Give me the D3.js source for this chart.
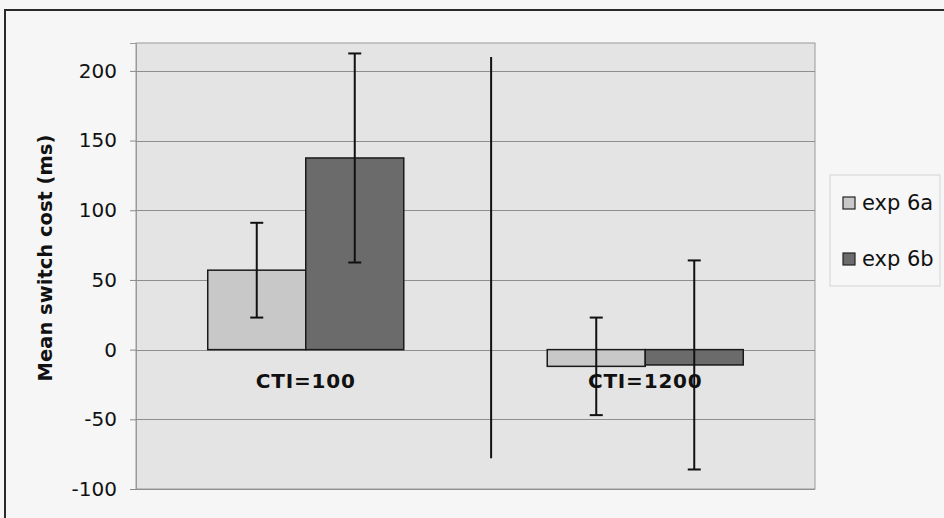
<!DOCTYPE html>
<html>
<head>
<meta charset="utf-8">
<script src="https://cdn.jsdelivr.net/npm/d3@7"></script>
<style>
  html, body { margin: 0; padding: 0; background: #f6f6f6; }
  svg { display: block; }
  text { font-family: "DejaVu Sans", Verdana, sans-serif; fill: #111; }
</style>
</head>
<body>
<svg id="chart" width="944" height="518"></svg>
<script>
// ---- data ----
const categories = ["CTI=100", "CTI=1200"];
const series = ["exp 6a", "exp 6b"];
const exp6a = [57, -12];
const exp6b = [137.5, -11];
const err6a = [34, 35];
const err6b = [75, 75];
const yTicks = [-100, -50, 0, 50, 100, 150, 200];
const yDomain = [-100, 220];
const yTitle = "Mean switch cost (ms)";
// vertical separator: position in category units, value extent
const dividerPos = [1.046];
const dividerRange = [210, -78];

// ---- layout ----
const W = 944, H = 518;
const plot = { left: 136, right: 815, top: 43, bottom: 489 };
const colors = { "exp 6a": "#c8c8c8", "exp 6b": "#6b6b6b" };

const svg = d3.select("#chart");

// background
svg.append("rect").attr("x", 0).attr("y", 0).attr("width", W).attr("height", H).attr("fill", "#f6f6f6");
// outer frame (left + top visible)
svg.append("path").attr("d", `M5,${H} L5,10 L${W},10`).attr("fill", "none").attr("stroke", "#2a2a2a").attr("stroke-width", 2);

const y = d3.scaleLinear().domain(yDomain).range([plot.bottom, plot.top]);
const x0 = d3.scaleBand().domain(categories).range([plot.left, plot.right]).paddingInner(0).paddingOuter(0);
const x1 = d3.scaleBand().domain(series).range([0, x0.bandwidth()]).paddingInner(0).paddingOuter(0.732);
const xc = d3.scaleLinear().domain([0, categories.length]).range([plot.left, plot.right]);

// plot area
svg.append("rect")
  .attr("x", plot.left).attr("y", plot.top)
  .attr("width", plot.right - plot.left).attr("height", plot.bottom - plot.top)
  .attr("fill", "#e4e4e4").attr("stroke", "#9a9a9a").attr("stroke-width", 1);

// gridlines + y axis
const yAxis = d3.axisLeft(y).tickValues(yTicks).tickSize(6).tickPadding(13).tickFormat(d => String(d));
const gAxis = svg.append("g").attr("transform", `translate(${plot.left},0)`).call(yAxis);
gAxis.select(".domain").attr("stroke", "#9a9a9a");
gAxis.selectAll(".tick line").attr("stroke", "#8a8a8a");
gAxis.selectAll(".tick text").attr("font-size", 20).attr("fill", "#222").style("font-family", "DejaVu Sans, sans-serif");

svg.append("g").selectAll("line").data(yTicks).join("line")
  .attr("x1", plot.left).attr("x2", plot.right)
  .attr("y1", d => Math.round(y(d)) + 0.5).attr("y2", d => Math.round(y(d)) + 0.5)
  .attr("stroke", "#8f8f8f").attr("stroke-width", 1);

// y title
svg.append("text")
  .attr("transform", `translate(52,258) rotate(-90)`)
  .attr("text-anchor", "middle")
  .attr("font-weight", "bold").attr("font-size", 19.5)
  .text(yTitle);

// bars
const rows = [];
categories.forEach((c, i) => {
  rows.push({ cat: c, s: "exp 6a", v: exp6a[i], e: err6a[i] });
  rows.push({ cat: c, s: "exp 6b", v: exp6b[i], e: err6b[i] });
});

svg.append("g").selectAll("rect").data(rows).join("rect")
  .attr("x", d => x0(d.cat) + x1(d.s))
  .attr("y", d => y(Math.max(0, d.v)))
  .attr("width", x1.bandwidth())
  .attr("height", d => Math.abs(y(d.v) - y(0)))
  .attr("fill", d => colors[d.s])
  .attr("stroke", "#1a1a1a").attr("stroke-width", 1.5);

// category labels
svg.append("g").selectAll("text").data(categories).join("text")
  .attr("x", d => x0(d) + x0.bandwidth() / 2)
  .attr("y", y(0) + 38)
  .attr("text-anchor", "middle")
  .attr("font-weight", "bold").attr("font-size", 20)
  .attr("letter-spacing", 0.8)
  .text(d => d);

// error bars
const eg = svg.append("g").attr("stroke", "#111").attr("stroke-width", 2);
rows.forEach(d => {
  const cx = x0(d.cat) + x1(d.s) + x1.bandwidth() / 2;
  const top = y(d.v + d.e), bot = y(d.v - d.e);
  eg.append("line").attr("x1", cx).attr("x2", cx).attr("y1", top).attr("y2", bot);
  eg.append("line").attr("x1", cx - 6.5).attr("x2", cx + 6.5).attr("y1", top).attr("y2", top);
  eg.append("line").attr("x1", cx - 6.5).attr("x2", cx + 6.5).attr("y1", bot).attr("y2", bot);
});

// vertical separator
svg.append("g").selectAll("line").data(dividerPos).join("line")
  .attr("x1", d => xc(d)).attr("x2", d => xc(d))
  .attr("y1", y(dividerRange[0])).attr("y2", y(dividerRange[1]))
  .attr("stroke", "#111").attr("stroke-width", 2);

// legend
const lg = svg.append("g");
lg.append("rect").attr("x", 830).attr("y", 175).attr("width", 110).attr("height", 111)
  .attr("fill", "#f7f7f7").attr("stroke", "#d4d4d4").attr("stroke-width", 1);
const ly = d3.scalePoint().domain(series).range([203, 259]);
lg.selectAll("rect.sw").data(series).join("rect").attr("class", "sw")
  .attr("x", 843).attr("y", d => ly(d) - 6).attr("width", 12).attr("height", 12)
  .attr("fill", d => colors[d]).attr("stroke", "#222").attr("stroke-width", 1.2);
lg.selectAll("text").data(series).join("text")
  .attr("x", 862).attr("y", d => ly(d)).attr("dy", "0.35em")
  .attr("font-size", 21).attr("fill", "#222")
  .text(d => d);
</script>
</body>
</html>
